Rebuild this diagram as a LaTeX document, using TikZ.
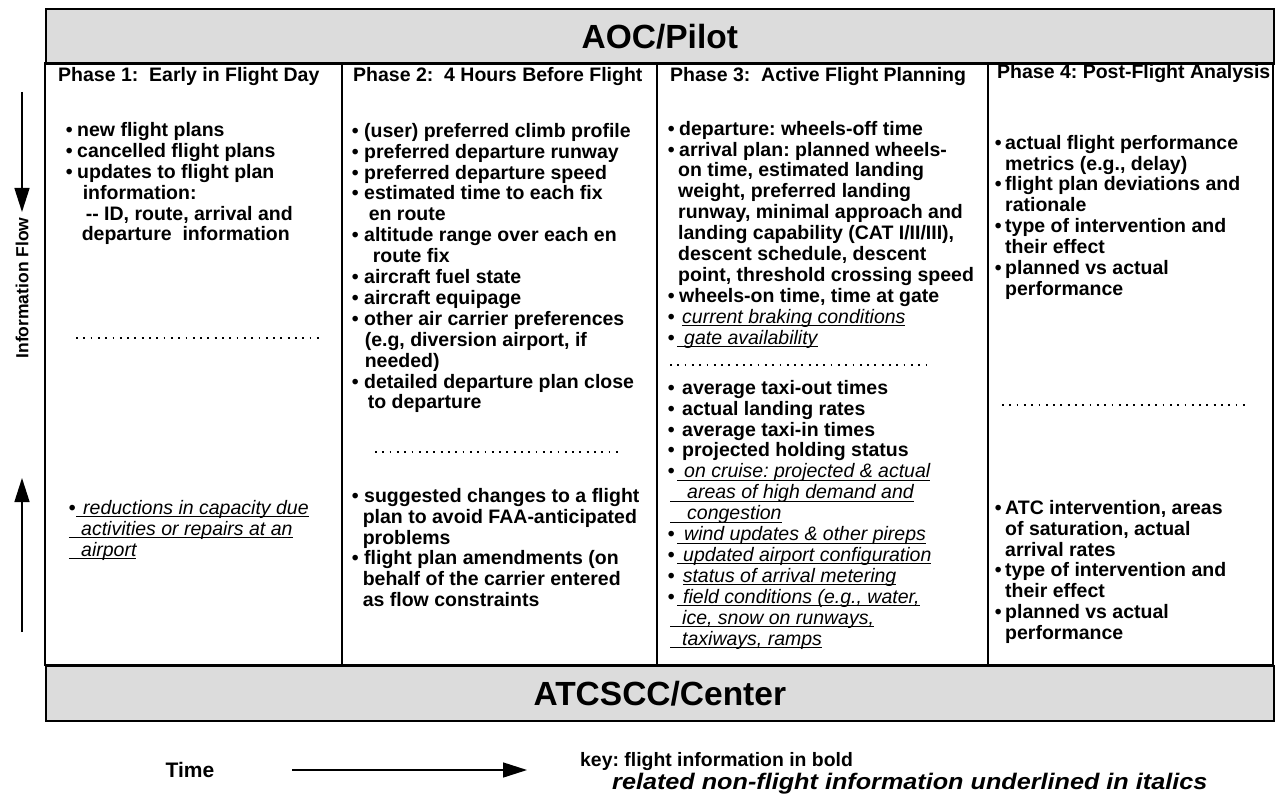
\documentclass[tikz,border=0pt]{standalone}
\usepackage{fontspec}
\setmainfont{Liberation Sans}
\usetikzlibrary{arrows.meta}
\definecolor{bandgray}{HTML}{DCDCDC}
% bullet in a box of given width
\newcommand\bl[1][11pt]{\makebox[#1][l]{\textbullet}}
% italic text underlined, leading space included
\newcommand\uit[1]{\setbox0=\hbox{\mdseries\itshape #1}\rlap{\rule[-3pt]{\wd0}{1pt}}\box0}
% strut with the height of one text line
\newcommand\ls{\rule[-6.2pt]{0pt}{20.9pt}}
\newcommand\bodyfont{\fontsize{19.5}{20.9}\selectfont\bfseries\frenchspacing}
\tikzset{
  frame/.style={line width=1.6pt},
  band/.style={draw, line width=1.6pt, fill=bandgray, inner sep=0pt,
    font=\fontsize{33.5}{36}\selectfont\bfseries},
  phasehead/.style={anchor=base west, inner sep=0pt,
    font=\fontsize{19.5}{21}\selectfont\bfseries\frenchspacing},
  block/.style={anchor=north west, inner sep=0pt, align=left, font=\bodyfont},
  dotline/.style={line width=1.8pt, dash pattern=on 1.8pt off 5.5pt},
  flow/.style={line width=1.5pt, -{Triangle[length=24pt,width=15pt]}},
  plain/.style={inner sep=0pt}
}
\begin{document}
\begin{tikzpicture}[x=1pt,y=-1pt]
\useasboundingbox (0,0) rectangle (1284,799);

% bands for the two parties
\node[band, minimum width=1228pt, minimum height=55pt, anchor=north west] (aoc) at (45,8) {AOC/Pilot};
\node[band, minimum width=1228pt, minimum height=55pt, anchor=north west] (atc) at (45,665) {ATCSCC/Center};

% table body and column dividers
\draw[frame] (45,63) rectangle (1273,665);
\draw[frame] (342,63) -- (342,665);
\draw[frame] (657,63) -- (657,665);
\draw[frame] (988,63) -- (988,665);

% column headings
\node[phasehead] (h1) at (58,82) {Phase 1:\ \ Early in Flight Day};
\node[phasehead] (h2) at (353,82) {Phase 2:\ \ 4 Hours Before Flight};
\node[phasehead] (h3) at (670,82) {Phase 3:\ \ Active Flight Planning};
\node[phasehead] (h4) at (997,79) {Phase 4: Post-Flight Analysis};

% Phase 1
\node[block] (p1a) at (65.6,121.6) {%
\ls\bl[11.4pt]new flight plans\\
\ls\bl[11.4pt]cancelled flight plans\\
\ls\bl[11.4pt]updates to flight plan\\
\ls\hspace*{17pt}information:\\
\ls\hspace*{20pt}{-}{-} ID, route, arrival and\\
\ls\hspace*{16pt}departure\ \ information};
\node[block] (p1b) at (68.6,499.3) {%
\ls\bl[7.4pt]\uit{\hspace*{7pt}reductions in capacity due}\\
\ls\uit{\hspace*{12.4pt}activities or repairs at an}\\
\ls\uit{\hspace*{12.4pt}airport}};

% Phase 2
\node[block] (p2a) at (351.6,122.3) {%
\ls\bl[12.4pt](user) preferred climb profile\\
\ls\bl[12.4pt]preferred departure runway\\
\ls\bl[12.4pt]preferred departure speed\\
\ls\bl[12.4pt]estimated time to each fix\\
\ls\hspace*{17pt}en route\\
\ls\bl[12.4pt]altitude range over each en\\
\ls\hspace*{21pt}route fix\\
\ls\bl[12.4pt]aircraft fuel state\\
\ls\bl[12.4pt]aircraft equipage\\
\ls\bl[12.4pt]other air carrier preferences\\
\ls\hspace*{13pt}(e.g, diversion airport, if\\
\ls\hspace*{13pt}needed)\\
\ls\bl[12.4pt]detailed departure plan close\\
\ls\hspace*{16pt}to departure};
\node[block] (p2b) at (351.6,487.3) {%
\ls\bl[12.4pt]suggested changes to a flight\\
\ls\hspace*{11pt}plan to avoid FAA-anticipated\\
\ls\hspace*{11pt}problems\\
\ls\bl[12.4pt]flight plan amendments (on\\
\ls\hspace*{11pt}behalf of the carrier entered\\
\ls\hspace*{11pt}as flow constraints};

% Phase 3
\node[block] (p3a) at (667.6,120.3) {%
\ls\bl[11.4pt]departure: wheels-off time\\
\ls\bl[11.4pt]arrival plan: planned wheels-\\
\ls\hspace*{10.4pt}on time, estimated landing\\
\ls\hspace*{10.4pt}weight, preferred landing\\
\ls\hspace*{10.4pt}runway, minimal approach and\\
\ls\hspace*{10.4pt}landing capability (CAT I/II/III),\\
\ls\hspace*{10.4pt}descent schedule, descent\\
\ls\hspace*{10.4pt}point, threshold crossing speed\\
\ls\bl[11.4pt]wheels-on time, time at gate\\
\ls\bl[14.4pt]\uit{current braking conditions}\\
\ls\bl[9.4pt]\uit{\hspace*{7pt}gate availability}};
\node[block] (p3b) at (667.6,379.3) {%
\ls\bl[14.4pt]average taxi-out times\\
\ls\bl[14.4pt]actual landing rates\\
\ls\bl[14.4pt]average taxi-in times\\
\ls\bl[14.4pt]projected holding status\\
\ls\bl[9.4pt]\uit{\hspace*{7pt}on cruise: projected \& actual}\\
\ls\hspace*{2.4pt}\uit{\hspace*{17pt}areas of high demand and}\\
\ls\hspace*{2.4pt}\uit{\hspace*{17pt}congestion}\\
\ls\bl[9.4pt]\uit{\hspace*{7pt}wind updates \& other pireps}\\
\ls\bl[9.4pt]\uit{\hspace*{6pt}updated airport configuration}\\
\ls\bl[15pt]\uit{status of arrival metering}\\
\ls\bl[9.4pt]\uit{\hspace*{6pt}field conditions (e.g., water,}\\
\ls\hspace*{2.4pt}\uit{\hspace*{12pt}ice, snow on runways,}\\
\ls\hspace*{2.4pt}\uit{\hspace*{12pt}taxiways, ramps}};

% Phase 4
\node[block] (p4a) at (994.6,134.3) {%
\ls\bl[10.4pt]actual flight performance\\
\ls\hspace*{10.4pt}metrics (e.g., delay)\\
\ls\bl[10.4pt]flight plan deviations and\\
\ls\hspace*{10.4pt}rationale\\
\ls\bl[10.4pt]type of intervention and\\
\ls\hspace*{10.4pt}their effect\\
\ls\bl[10.4pt]planned vs actual\\
\ls\hspace*{10.4pt}performance};
\node[block] (p4b) at (994.6,499.3) {%
\ls\bl[10.4pt]ATC intervention, areas\\
\ls\hspace*{10.4pt}of saturation, actual\\
\ls\hspace*{10.4pt}arrival rates\\
\ls\bl[10.4pt]type of intervention and\\
\ls\hspace*{10.4pt}their effect\\
\ls\bl[10.4pt]planned vs actual\\
\ls\hspace*{10.4pt}performance};

% dotted separators between flight and non-flight information
\coordinate (d1a) at (76,338);   \coordinate (d1b) at (323,338);
\coordinate (d2a) at (375,452);  \coordinate (d2b) at (620,452);
\coordinate (d3a) at (670,365);  \coordinate (d3b) at (927,365);
\coordinate (d4a) at (1002,405); \coordinate (d4b) at (1247,405);
\draw[dotline] (d1a) -- (d1b);
\draw[dotline] (d2a) -- (d2b);
\draw[dotline] (d3a) -- (d3b);
\draw[dotline] (d4a) -- (d4b);

% information flow arrows
\node[plain, rotate=90, font=\fontsize{17.5}{19}\selectfont\bfseries] (iflow) at (22,288) {Information Flow};
\coordinate (downS) at (22,92);  \coordinate (downE) at (22,212);
\coordinate (upS) at (22,632);   \coordinate (upE) at (22,478);
\draw[flow] (downS) -- (downE);
\draw[flow] (upS) -- (upE);

% time axis and key
\node[plain, font=\fontsize{21}{23}\selectfont\bfseries] (time) at (190,770) {Time};
\coordinate (tS) at (292,770); \coordinate (tE) at (527,770);
\draw[flow] (tS) -- (tE);
\node[plain, anchor=base west, font=\fontsize{19.4}{21}\selectfont\bfseries\frenchspacing] (key1) at (580,766) {key: flight information in bold};
\node[plain, anchor=base west, xscale=1.12, font=\fontsize{22.5}{24}\selectfont\bfseries\itshape] (key2) at (612,789) {related non-flight information underlined in italics};
\end{tikzpicture}
\end{document}
